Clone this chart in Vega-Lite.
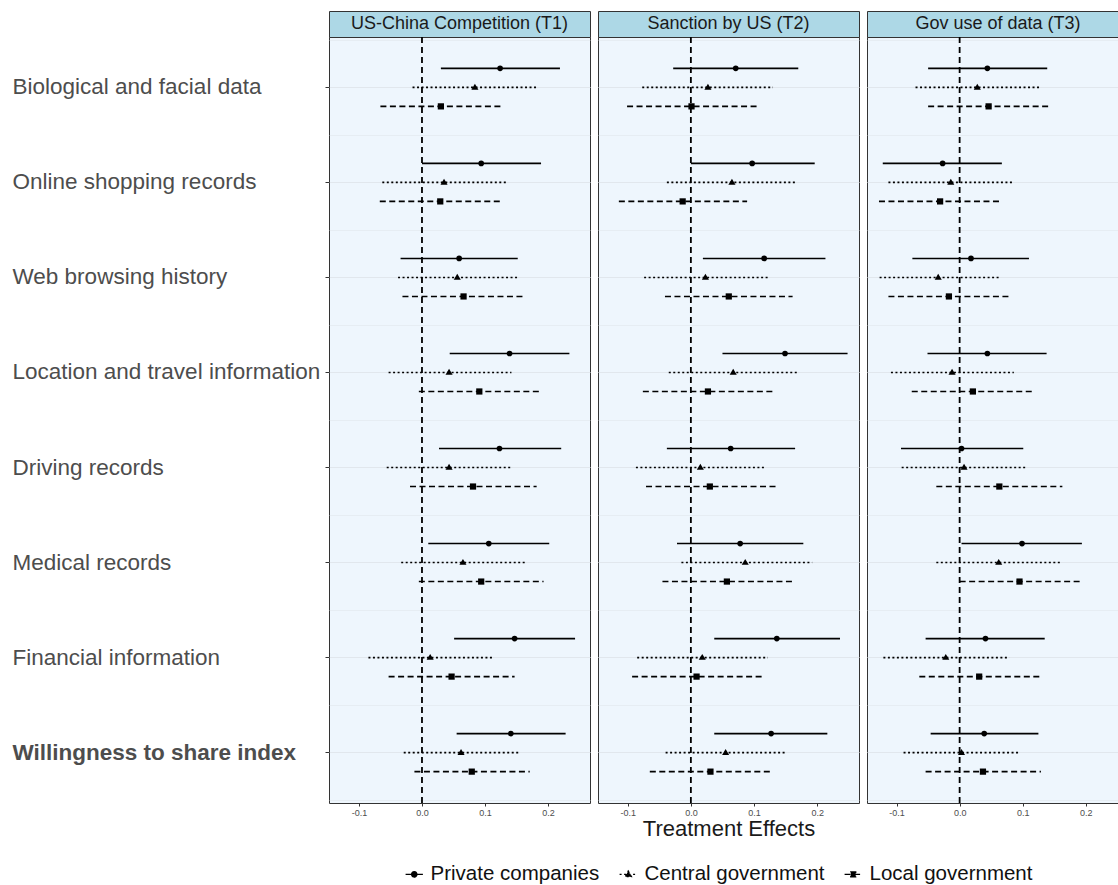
{
  "$schema": "https://vega.github.io/schema/vega-lite/v6.json",
  "padding": {"left": 11, "top": 10, "right": 0, "bottom": 0},
  "autosize": {"type": "pad"},
  "background": "white",
  "config": {
    "font": "Liberation Sans",
    "view": {"fill": "#EEF6FD", "stroke": "#333333", "strokeWidth": 1},
    "axis": {"domain": false, "gridColor": "#E1E7ED", "tickColor": "#333333", "labelColor": "#4d4d4d", "titleFontWeight": "normal"},
    "legend": {"labelFontSize": 20.5, "labelColor": "#111111", "labelLimit": 400, "symbolOpacity": 1, "columnPadding": 16, "labelOffset": 6, "padding": 0}
  },
  "datasets": {
    "est": [
      {"panel": "US-China Competition (T1)", "item": "Biological and facial data", "actor": "Private companies", "est": 0.124, "lo": 0.030, "hi": 0.219},
      {"panel": "US-China Competition (T1)", "item": "Biological and facial data", "actor": "Central government", "est": 0.084, "lo": -0.015, "hi": 0.183},
      {"panel": "US-China Competition (T1)", "item": "Biological and facial data", "actor": "Local government", "est": 0.030, "lo": -0.066, "hi": 0.129},
      {"panel": "US-China Competition (T1)", "item": "Online shopping records", "actor": "Private companies", "est": 0.094, "lo": 0.000, "hi": 0.189},
      {"panel": "US-China Competition (T1)", "item": "Online shopping records", "actor": "Central government", "est": 0.035, "lo": -0.063, "hi": 0.134},
      {"panel": "US-China Competition (T1)", "item": "Online shopping records", "actor": "Local government", "est": 0.029, "lo": -0.067, "hi": 0.128},
      {"panel": "US-China Competition (T1)", "item": "Web browsing history", "actor": "Private companies", "est": 0.059, "lo": -0.034, "hi": 0.152},
      {"panel": "US-China Competition (T1)", "item": "Web browsing history", "actor": "Central government", "est": 0.056, "lo": -0.038, "hi": 0.154},
      {"panel": "US-China Competition (T1)", "item": "Web browsing history", "actor": "Local government", "est": 0.066, "lo": -0.031, "hi": 0.164},
      {"panel": "US-China Competition (T1)", "item": "Location and travel information", "actor": "Private companies", "est": 0.139, "lo": 0.044, "hi": 0.234},
      {"panel": "US-China Competition (T1)", "item": "Location and travel information", "actor": "Central government", "est": 0.043, "lo": -0.053, "hi": 0.142},
      {"panel": "US-China Competition (T1)", "item": "Location and travel information", "actor": "Local government", "est": 0.091, "lo": -0.005, "hi": 0.189},
      {"panel": "US-China Competition (T1)", "item": "Driving records", "actor": "Private companies", "est": 0.123, "lo": 0.027, "hi": 0.221},
      {"panel": "US-China Competition (T1)", "item": "Driving records", "actor": "Central government", "est": 0.043, "lo": -0.056, "hi": 0.142},
      {"panel": "US-China Competition (T1)", "item": "Driving records", "actor": "Local government", "est": 0.081, "lo": -0.019, "hi": 0.182},
      {"panel": "US-China Competition (T1)", "item": "Medical records", "actor": "Private companies", "est": 0.106, "lo": 0.010, "hi": 0.202},
      {"panel": "US-China Competition (T1)", "item": "Medical records", "actor": "Central government", "est": 0.065, "lo": -0.033, "hi": 0.166},
      {"panel": "US-China Competition (T1)", "item": "Medical records", "actor": "Local government", "est": 0.094, "lo": -0.005, "hi": 0.193},
      {"panel": "US-China Competition (T1)", "item": "Financial information", "actor": "Private companies", "est": 0.147, "lo": 0.051, "hi": 0.243},
      {"panel": "US-China Competition (T1)", "item": "Financial information", "actor": "Central government", "est": 0.013, "lo": -0.085, "hi": 0.113},
      {"panel": "US-China Competition (T1)", "item": "Financial information", "actor": "Local government", "est": 0.047, "lo": -0.053, "hi": 0.147},
      {"panel": "US-China Competition (T1)", "item": "Willingness to share index", "actor": "Private companies", "est": 0.141, "lo": 0.055, "hi": 0.228},
      {"panel": "US-China Competition (T1)", "item": "Willingness to share index", "actor": "Central government", "est": 0.062, "lo": -0.029, "hi": 0.155},
      {"panel": "US-China Competition (T1)", "item": "Willingness to share index", "actor": "Local government", "est": 0.079, "lo": -0.012, "hi": 0.171},

      {"panel": "Sanction by US (T2)", "item": "Biological and facial data", "actor": "Private companies", "est": 0.071, "lo": -0.028, "hi": 0.170},
      {"panel": "Sanction by US (T2)", "item": "Biological and facial data", "actor": "Central government", "est": 0.027, "lo": -0.077, "hi": 0.130},
      {"panel": "Sanction by US (T2)", "item": "Biological and facial data", "actor": "Local government", "est": 0.001, "lo": -0.101, "hi": 0.104},
      {"panel": "Sanction by US (T2)", "item": "Online shopping records", "actor": "Private companies", "est": 0.097, "lo": 0.000, "hi": 0.196},
      {"panel": "Sanction by US (T2)", "item": "Online shopping records", "actor": "Central government", "est": 0.065, "lo": -0.038, "hi": 0.168},
      {"panel": "Sanction by US (T2)", "item": "Online shopping records", "actor": "Local government", "est": -0.013, "lo": -0.114, "hi": 0.089},
      {"panel": "Sanction by US (T2)", "item": "Web browsing history", "actor": "Private companies", "est": 0.116, "lo": 0.019, "hi": 0.213},
      {"panel": "Sanction by US (T2)", "item": "Web browsing history", "actor": "Central government", "est": 0.023, "lo": -0.074, "hi": 0.125},
      {"panel": "Sanction by US (T2)", "item": "Web browsing history", "actor": "Local government", "est": 0.060, "lo": -0.041, "hi": 0.161},
      {"panel": "Sanction by US (T2)", "item": "Location and travel information", "actor": "Private companies", "est": 0.149, "lo": 0.050, "hi": 0.248},
      {"panel": "Sanction by US (T2)", "item": "Location and travel information", "actor": "Central government", "est": 0.067, "lo": -0.035, "hi": 0.170},
      {"panel": "Sanction by US (T2)", "item": "Location and travel information", "actor": "Local government", "est": 0.027, "lo": -0.076, "hi": 0.129},
      {"panel": "Sanction by US (T2)", "item": "Driving records", "actor": "Private companies", "est": 0.063, "lo": -0.038, "hi": 0.165},
      {"panel": "Sanction by US (T2)", "item": "Driving records", "actor": "Central government", "est": 0.015, "lo": -0.087, "hi": 0.119},
      {"panel": "Sanction by US (T2)", "item": "Driving records", "actor": "Local government", "est": 0.030, "lo": -0.071, "hi": 0.134},
      {"panel": "Sanction by US (T2)", "item": "Medical records", "actor": "Private companies", "est": 0.078, "lo": -0.022, "hi": 0.178},
      {"panel": "Sanction by US (T2)", "item": "Medical records", "actor": "Central government", "est": 0.086, "lo": -0.015, "hi": 0.192},
      {"panel": "Sanction by US (T2)", "item": "Medical records", "actor": "Local government", "est": 0.057, "lo": -0.045, "hi": 0.161},
      {"panel": "Sanction by US (T2)", "item": "Financial information", "actor": "Private companies", "est": 0.136, "lo": 0.037, "hi": 0.236},
      {"panel": "Sanction by US (T2)", "item": "Financial information", "actor": "Central government", "est": 0.018, "lo": -0.085, "hi": 0.122},
      {"panel": "Sanction by US (T2)", "item": "Financial information", "actor": "Local government", "est": 0.009, "lo": -0.093, "hi": 0.113},
      {"panel": "Sanction by US (T2)", "item": "Willingness to share index", "actor": "Private companies", "est": 0.127, "lo": 0.037, "hi": 0.216},
      {"panel": "Sanction by US (T2)", "item": "Willingness to share index", "actor": "Central government", "est": 0.055, "lo": -0.040, "hi": 0.151},
      {"panel": "Sanction by US (T2)", "item": "Willingness to share index", "actor": "Local government", "est": 0.031, "lo": -0.065, "hi": 0.127},

      {"panel": "Gov use of data (T3)", "item": "Biological and facial data", "actor": "Private companies", "est": 0.044, "lo": -0.050, "hi": 0.139},
      {"panel": "Gov use of data (T3)", "item": "Biological and facial data", "actor": "Central government", "est": 0.028, "lo": -0.070, "hi": 0.127},
      {"panel": "Gov use of data (T3)", "item": "Biological and facial data", "actor": "Local government", "est": 0.046, "lo": -0.050, "hi": 0.143},
      {"panel": "Gov use of data (T3)", "item": "Online shopping records", "actor": "Private companies", "est": -0.027, "lo": -0.122, "hi": 0.067},
      {"panel": "Gov use of data (T3)", "item": "Online shopping records", "actor": "Central government", "est": -0.014, "lo": -0.113, "hi": 0.084},
      {"panel": "Gov use of data (T3)", "item": "Online shopping records", "actor": "Local government", "est": -0.031, "lo": -0.128, "hi": 0.066},
      {"panel": "Gov use of data (T3)", "item": "Web browsing history", "actor": "Private companies", "est": 0.018, "lo": -0.075, "hi": 0.110},
      {"panel": "Gov use of data (T3)", "item": "Web browsing history", "actor": "Central government", "est": -0.034, "lo": -0.127, "hi": 0.064},
      {"panel": "Gov use of data (T3)", "item": "Web browsing history", "actor": "Local government", "est": -0.017, "lo": -0.113, "hi": 0.080},
      {"panel": "Gov use of data (T3)", "item": "Location and travel information", "actor": "Private companies", "est": 0.044, "lo": -0.051, "hi": 0.138},
      {"panel": "Gov use of data (T3)", "item": "Location and travel information", "actor": "Central government", "est": -0.012, "lo": -0.109, "hi": 0.086},
      {"panel": "Gov use of data (T3)", "item": "Location and travel information", "actor": "Local government", "est": 0.021, "lo": -0.076, "hi": 0.119},
      {"panel": "Gov use of data (T3)", "item": "Driving records", "actor": "Private companies", "est": 0.003, "lo": -0.093, "hi": 0.101},
      {"panel": "Gov use of data (T3)", "item": "Driving records", "actor": "Central government", "est": 0.007, "lo": -0.092, "hi": 0.107},
      {"panel": "Gov use of data (T3)", "item": "Driving records", "actor": "Local government", "est": 0.063, "lo": -0.037, "hi": 0.163},
      {"panel": "Gov use of data (T3)", "item": "Medical records", "actor": "Private companies", "est": 0.099, "lo": 0.003, "hi": 0.194},
      {"panel": "Gov use of data (T3)", "item": "Medical records", "actor": "Central government", "est": 0.062, "lo": -0.037, "hi": 0.162},
      {"panel": "Gov use of data (T3)", "item": "Medical records", "actor": "Local government", "est": 0.095, "lo": 0.000, "hi": 0.194},
      {"panel": "Gov use of data (T3)", "item": "Financial information", "actor": "Private companies", "est": 0.041, "lo": -0.054, "hi": 0.135},
      {"panel": "Gov use of data (T3)", "item": "Financial information", "actor": "Central government", "est": -0.022, "lo": -0.121, "hi": 0.079},
      {"panel": "Gov use of data (T3)", "item": "Financial information", "actor": "Local government", "est": 0.031, "lo": -0.064, "hi": 0.131},
      {"panel": "Gov use of data (T3)", "item": "Willingness to share index", "actor": "Private companies", "est": 0.039, "lo": -0.046, "hi": 0.125},
      {"panel": "Gov use of data (T3)", "item": "Willingness to share index", "actor": "Central government", "est": 0.003, "lo": -0.089, "hi": 0.095},
      {"panel": "Gov use of data (T3)", "item": "Willingness to share index", "actor": "Local government", "est": 0.037, "lo": -0.054, "hi": 0.129}
    ]
  },
  "spacing": 6,
  "hconcat": [
    {
      "spacing": 0,
      "bounds": "flush",
      "vconcat": [
        {
          "width": 261, "height": 26,
          "view": {"fill": "#ADD8E6", "stroke": "#333333", "strokeWidth": 1},
          "data": {"name": "est"},
          "transform": [
            {"filter": "datum.panel == 'US-China Competition (T1)'"},
            {"aggregate": [{"op": "count", "as": "n"}], "groupby": ["panel"]}
          ],
          "mark": {"type": "text", "fontSize": 18, "color": "#1a1a1a"},
          "encoding": {"text": {"field": "panel", "type": "nominal"}}
        },
        {
          "width": 261, "height": 766,
          "data": {"name": "est"},
          "transform": [{"filter": "datum.panel == 'US-China Competition (T1)'"}],
          "resolve": {"axis": {"y": "independent"}},
          "encoding": {
            "y": {"field": "item", "type": "nominal", "sort": ["Biological and facial data", "Online shopping records", "Web browsing history", "Location and travel information", "Driving records", "Medical records", "Financial information", "Willingness to share index"],
              "scale": {"paddingInner": 0, "paddingOuter": 0.03}, "axis": null},
            "yOffset": {"field": "actor", "type": "nominal", "scale": {"domain": ["Private companies", "Central government", "Local government"], "paddingInner": 0, "paddingOuter": 1.5}}
          },
          "layer": [
            {
              "transform": [{"aggregate": [{"op": "count", "as": "n"}]}],
              "mark": {"type": "rule", "color": "black", "strokeWidth": 1.8, "strokeDash": [6, 4]},
              "encoding": {"x": {"datum": 0, "type": "quantitative", "scale": {"domain": [-0.1476, 0.2667], "nice": false, "zero": false}}, "y": null, "yOffset": null}
            },
            {
              "mark": {"type": "rule", "color": "black", "strokeWidth": 1.6},
              "encoding": {
                "x": {"field": "lo", "type": "quantitative", "scale": {"domain": [-0.1476, 0.2667], "nice": false, "zero": false},
                  "axis": {"title": null, "values": [-0.1, -0.05, 0, 0.05, 0.1, 0.15, 0.2, 0.25], "labelFontSize": 9, "labelPadding": 2, "tickSize": 3,
                    "labelExpr": "abs(datum.value * 10 - round(datum.value * 10)) > 0.01 ? '' : (datum.value < 0 ? '-' : '') + format(abs(datum.value), '.1f')",
                    "tickOpacity": {"condition": {"test": "abs(datum.value * 10 - round(datum.value * 10)) > 0.01", "value": 0}, "value": 1},
                    "gridWidth": {"condition": {"test": "abs(datum.value * 10 - round(datum.value * 10)) > 0.01", "value": 0.6}, "value": 1}}},
                "x2": {"field": "hi"},
                "y": {"field": "item", "type": "nominal", "sort": ["Biological and facial data", "Online shopping records", "Web browsing history", "Location and travel information", "Driving records", "Medical records", "Financial information", "Willingness to share index"],
                  "scale": {"paddingInner": 0, "paddingOuter": 0.03},
                  "axis": {"title": null, "grid": true, "bandPosition": 0.5, "tickSize": 4, "labelAlign": "left", "labelBaseline": "middle", "labelPadding": 313, "labelLimit": 400, "labelFontSize": 22.5,
                    "labelFontWeight": {"condition": {"test": "datum.value == 'Willingness to share index'", "value": "bold"}, "value": "normal"}}},
                "strokeDash": {"field": "actor", "type": "nominal",
                  "scale": {"domain": ["Private companies", "Central government", "Local government"], "range": [[1, 0], [2, 2.5], [6, 3.5]]},
                  "legend": {"title": null, "orient": "none", "direction": "horizontal", "legendX": 75, "legendY": 853,
                    "symbolSize": 300, "symbolStrokeWidth": 1.4, "symbolFillColor": "black", "symbolStrokeColor": "black"}}
              }
            },
            {
              "transform": [{"filter": "datum.actor == 'Private companies'"}],
              "mark": {"type": "point", "filled": true, "color": "black", "opacity": 1, "size": 32, "shape": "circle"},
              "encoding": {
                "x": {"field": "est", "type": "quantitative", "scale": {"domain": [-0.1476, 0.2667], "nice": false, "zero": false}},
                "y": {"field": "item", "type": "nominal", "sort": ["Biological and facial data", "Online shopping records", "Web browsing history", "Location and travel information", "Driving records", "Medical records", "Financial information", "Willingness to share index"],
                  "scale": {"paddingInner": 0, "paddingOuter": 0.03},
                  "axis": {"orient": "right", "title": null, "grid": true, "tickBand": "extent", "labels": false, "ticks": false, "domain": false, "gridWidth": 0.6, "minExtent": 0, "maxExtent": 0}}
              }
            },
            {
              "transform": [{"filter": "datum.actor == 'Central government'"}],
              "mark": {"type": "point", "filled": true, "color": "black", "opacity": 1, "size": 32, "shape": "M0,-1.3L1.25,0.8L-1.25,0.8Z"},
              "encoding": {"x": {"field": "est", "type": "quantitative", "scale": {"domain": [-0.1476, 0.2667], "nice": false, "zero": false}}}
            },
            {
              "transform": [{"filter": "datum.actor == 'Local government'"}],
              "mark": {"type": "point", "filled": true, "color": "black", "opacity": 1, "size": 32, "shape": "M-1.1,-1.1H1.1V1.1H-1.1Z"},
              "encoding": {"x": {"field": "est", "type": "quantitative", "scale": {"domain": [-0.1476, 0.2667], "nice": false, "zero": false}}}
            },
            {
              "mark": {"type": "point", "filled": true, "fill": "black", "stroke": "black", "opacity": 0},
              "encoding": {
                "x": {"field": "est", "type": "quantitative", "scale": {"domain": [-0.1476, 0.2667], "nice": false, "zero": false}},
                "shape": {"field": "actor", "type": "nominal",
                  "scale": {"domain": ["Private companies", "Central government", "Local government"],
                    "range": [
                      "M-1,0H1M-0.3,0A0.3,0.3,0,1,1,0.3,0A0.3,0.3,0,1,1,-0.3,0Z",
                      "M-1,0H1M0,-0.38L0.36,0.26L-0.36,0.26Z",
                      "M-1,0H1M-0.28,-0.28H0.28V0.28H-0.28Z"]}}
              }
            }
          ]
        }
      ]
    },
    {
      "spacing": 0,
      "bounds": "flush",
      "vconcat": [
        {
          "width": 261, "height": 26,
          "view": {"fill": "#ADD8E6", "stroke": "#333333", "strokeWidth": 1},
          "data": {"name": "est"},
          "transform": [
            {"filter": "datum.panel == 'Sanction by US (T2)'"},
            {"aggregate": [{"op": "count", "as": "n"}], "groupby": ["panel"]}
          ],
          "mark": {"type": "text", "fontSize": 18, "color": "#1a1a1a"},
          "encoding": {"text": {"field": "panel", "type": "nominal"}}
        },
        {
          "width": 261, "height": 766,
          "data": {"name": "est"},
          "transform": [{"filter": "datum.panel == 'Sanction by US (T2)'"}],
          "resolve": {"axis": {"y": "independent"}},
          "encoding": {
            "y": {"field": "item", "type": "nominal", "sort": ["Biological and facial data", "Online shopping records", "Web browsing history", "Location and travel information", "Driving records", "Medical records", "Financial information", "Willingness to share index"],
              "scale": {"paddingInner": 0, "paddingOuter": 0.03}, "axis": null},
            "yOffset": {"field": "actor", "type": "nominal", "scale": {"domain": ["Private companies", "Central government", "Local government"], "paddingInner": 0, "paddingOuter": 1.5}}
          },
          "layer": [
            {
              "transform": [{"aggregate": [{"op": "count", "as": "n"}]}],
              "mark": {"type": "rule", "color": "black", "strokeWidth": 1.8, "strokeDash": [6, 4]},
              "encoding": {"x": {"datum": 0, "type": "quantitative", "scale": {"domain": [-0.147, 0.2661], "nice": false, "zero": false}}, "y": null, "yOffset": null}
            },
            {
              "mark": {"type": "rule", "color": "black", "strokeWidth": 1.6},
              "encoding": {
                "x": {"field": "lo", "type": "quantitative", "scale": {"domain": [-0.147, 0.2661], "nice": false, "zero": false},
                  "axis": {"title": "Treatment Effects", "titleFontSize": 22, "titleColor": "#1a1a1a", "titlePadding": 1,
                    "values": [-0.1, -0.05, 0, 0.05, 0.1, 0.15, 0.2, 0.25], "labelFontSize": 9, "labelPadding": 2, "tickSize": 3,
                    "labelExpr": "abs(datum.value * 10 - round(datum.value * 10)) > 0.01 ? '' : (datum.value < 0 ? '-' : '') + format(abs(datum.value), '.1f')",
                    "tickOpacity": {"condition": {"test": "abs(datum.value * 10 - round(datum.value * 10)) > 0.01", "value": 0}, "value": 1},
                    "gridWidth": {"condition": {"test": "abs(datum.value * 10 - round(datum.value * 10)) > 0.01", "value": 0.6}, "value": 1}}},
                "x2": {"field": "hi"},
                "y": {"field": "item", "type": "nominal", "sort": ["Biological and facial data", "Online shopping records", "Web browsing history", "Location and travel information", "Driving records", "Medical records", "Financial information", "Willingness to share index"],
                  "scale": {"paddingInner": 0, "paddingOuter": 0.03},
                  "axis": {"title": null, "grid": true, "bandPosition": 0.5, "labels": false, "ticks": false, "minExtent": 0, "maxExtent": 0}},
                "strokeDash": {"field": "actor", "type": "nominal",
                  "scale": {"domain": ["Private companies", "Central government", "Local government"], "range": [[1, 0], [2, 2.5], [6, 3.5]]},
                  "legend": {"title": null, "orient": "none", "direction": "horizontal", "legendX": 75, "legendY": 853,
                    "symbolSize": 300, "symbolStrokeWidth": 1.4, "symbolFillColor": "black", "symbolStrokeColor": "black"}}
              }
            },
            {
              "transform": [{"filter": "datum.actor == 'Private companies'"}],
              "mark": {"type": "point", "filled": true, "color": "black", "opacity": 1, "size": 32, "shape": "circle"},
              "encoding": {
                "x": {"field": "est", "type": "quantitative", "scale": {"domain": [-0.147, 0.2661], "nice": false, "zero": false}},
                "y": {"field": "item", "type": "nominal", "sort": ["Biological and facial data", "Online shopping records", "Web browsing history", "Location and travel information", "Driving records", "Medical records", "Financial information", "Willingness to share index"],
                  "scale": {"paddingInner": 0, "paddingOuter": 0.03},
                  "axis": {"orient": "right", "title": null, "grid": true, "tickBand": "extent", "labels": false, "ticks": false, "domain": false, "gridWidth": 0.6, "minExtent": 0, "maxExtent": 0}}
              }
            },
            {
              "transform": [{"filter": "datum.actor == 'Central government'"}],
              "mark": {"type": "point", "filled": true, "color": "black", "opacity": 1, "size": 32, "shape": "M0,-1.3L1.25,0.8L-1.25,0.8Z"},
              "encoding": {"x": {"field": "est", "type": "quantitative", "scale": {"domain": [-0.147, 0.2661], "nice": false, "zero": false}}}
            },
            {
              "transform": [{"filter": "datum.actor == 'Local government'"}],
              "mark": {"type": "point", "filled": true, "color": "black", "opacity": 1, "size": 32, "shape": "M-1.1,-1.1H1.1V1.1H-1.1Z"},
              "encoding": {"x": {"field": "est", "type": "quantitative", "scale": {"domain": [-0.147, 0.2661], "nice": false, "zero": false}}}
            }
          ]
        }
      ]
    },
    {
      "spacing": 0,
      "bounds": "flush",
      "vconcat": [
        {
          "width": 251, "height": 26,
          "view": {"fill": "#ADD8E6", "stroke": "#333333", "strokeWidth": 1},
          "data": {"name": "est"},
          "transform": [
            {"filter": "datum.panel == 'Gov use of data (T3)'"},
            {"aggregate": [{"op": "count", "as": "n"}], "groupby": ["panel"]}
          ],
          "mark": {"type": "text", "fontSize": 18, "color": "#1a1a1a", "dx": 5.5},
          "encoding": {"text": {"field": "panel", "type": "nominal"}}
        },
        {
          "width": 251, "height": 766,
          "data": {"name": "est"},
          "transform": [{"filter": "datum.panel == 'Gov use of data (T3)'"}],
          "resolve": {"axis": {"y": "independent"}},
          "encoding": {
            "y": {"field": "item", "type": "nominal", "sort": ["Biological and facial data", "Online shopping records", "Web browsing history", "Location and travel information", "Driving records", "Medical records", "Financial information", "Willingness to share index"],
              "scale": {"paddingInner": 0, "paddingOuter": 0.03}, "axis": null},
            "yOffset": {"field": "actor", "type": "nominal", "scale": {"domain": ["Private companies", "Central government", "Local government"], "paddingInner": 0, "paddingOuter": 1.5}}
          },
          "layer": [
            {
              "transform": [{"aggregate": [{"op": "count", "as": "n"}]}],
              "mark": {"type": "rule", "color": "black", "strokeWidth": 1.8, "strokeDash": [6, 4]},
              "encoding": {"x": {"datum": 0, "type": "quantitative", "scale": {"domain": [-0.147, 0.2513], "nice": false, "zero": false}}, "y": null, "yOffset": null}
            },
            {
              "mark": {"type": "rule", "color": "black", "strokeWidth": 1.6},
              "encoding": {
                "x": {"field": "lo", "type": "quantitative", "scale": {"domain": [-0.147, 0.2513], "nice": false, "zero": false},
                  "axis": {"title": null, "values": [-0.1, -0.05, 0, 0.05, 0.1, 0.15, 0.2, 0.25], "labelFontSize": 9, "labelPadding": 2, "tickSize": 3,
                    "labelExpr": "abs(datum.value * 10 - round(datum.value * 10)) > 0.01 ? '' : (datum.value < 0 ? '-' : '') + format(abs(datum.value), '.1f')",
                    "tickOpacity": {"condition": {"test": "abs(datum.value * 10 - round(datum.value * 10)) > 0.01", "value": 0}, "value": 1},
                    "gridWidth": {"condition": {"test": "abs(datum.value * 10 - round(datum.value * 10)) > 0.01", "value": 0.6}, "value": 1}}},
                "x2": {"field": "hi"},
                "y": {"field": "item", "type": "nominal", "sort": ["Biological and facial data", "Online shopping records", "Web browsing history", "Location and travel information", "Driving records", "Medical records", "Financial information", "Willingness to share index"],
                  "scale": {"paddingInner": 0, "paddingOuter": 0.03},
                  "axis": {"title": null, "grid": true, "bandPosition": 0.5, "labels": false, "ticks": false, "minExtent": 0, "maxExtent": 0}},
                "strokeDash": {"field": "actor", "type": "nominal",
                  "scale": {"domain": ["Private companies", "Central government", "Local government"], "range": [[1, 0], [2, 2.5], [6, 3.5]]},
                  "legend": {"title": null, "orient": "none", "direction": "horizontal", "legendX": 75, "legendY": 853,
                    "symbolSize": 300, "symbolStrokeWidth": 1.4, "symbolFillColor": "black", "symbolStrokeColor": "black"}}
              }
            },
            {
              "transform": [{"filter": "datum.actor == 'Private companies'"}],
              "mark": {"type": "point", "filled": true, "color": "black", "opacity": 1, "size": 32, "shape": "circle"},
              "encoding": {
                "x": {"field": "est", "type": "quantitative", "scale": {"domain": [-0.147, 0.2513], "nice": false, "zero": false}},
                "y": {"field": "item", "type": "nominal", "sort": ["Biological and facial data", "Online shopping records", "Web browsing history", "Location and travel information", "Driving records", "Medical records", "Financial information", "Willingness to share index"],
                  "scale": {"paddingInner": 0, "paddingOuter": 0.03},
                  "axis": {"orient": "right", "title": null, "grid": true, "tickBand": "extent", "labels": false, "ticks": false, "domain": false, "gridWidth": 0.6, "minExtent": 0, "maxExtent": 0}}
              }
            },
            {
              "transform": [{"filter": "datum.actor == 'Central government'"}],
              "mark": {"type": "point", "filled": true, "color": "black", "opacity": 1, "size": 32, "shape": "M0,-1.3L1.25,0.8L-1.25,0.8Z"},
              "encoding": {"x": {"field": "est", "type": "quantitative", "scale": {"domain": [-0.147, 0.2513], "nice": false, "zero": false}}}
            },
            {
              "transform": [{"filter": "datum.actor == 'Local government'"}],
              "mark": {"type": "point", "filled": true, "color": "black", "opacity": 1, "size": 32, "shape": "M-1.1,-1.1H1.1V1.1H-1.1Z"},
              "encoding": {"x": {"field": "est", "type": "quantitative", "scale": {"domain": [-0.147, 0.2513], "nice": false, "zero": false}}}
            }
          ]
        }
      ]
    }
  ]
}
